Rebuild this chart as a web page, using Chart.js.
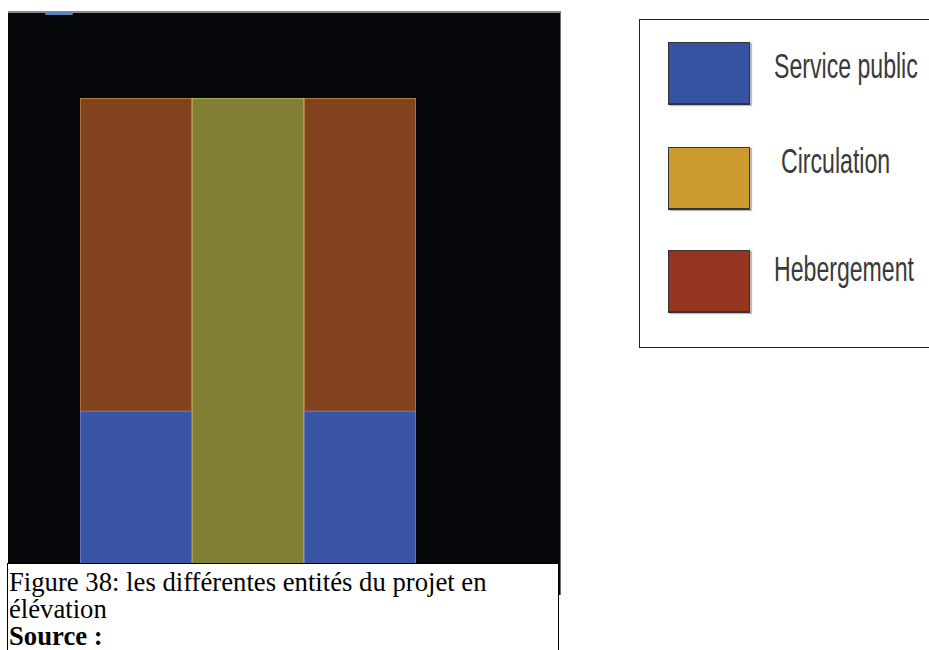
<!DOCTYPE html>
<html>
<head>
<meta charset="utf-8">
<script src="https://cdn.jsdelivr.net/npm/chart.js@4"></script>
<style>
  body { margin: 0; background: #fff; width: 929px; height: 650px; overflow: hidden; position: relative; }
  #panel { position: absolute; left: 8px; top: 11px; width: 553px; height: 584px; background: #05070a;
           border-top: 2px solid #8a8c8e; border-right: 1px solid #6d6f72; box-sizing: border-box; }
  #blip { position: absolute; left: 45px; top: 12px; width: 28px; height: 3px; border-radius: 2px; background: #5d86b8; }
  #legend { position: absolute; left: 639px; top: 19px; width: 300px; height: 329px; border: 1px solid #222;
            box-sizing: border-box; background: #fff; }
  .swatch { position: absolute; left: 28px; width: 82px; height: 63px; border: 1px solid #333;
            border-bottom-width: 2px; box-sizing: border-box; box-shadow: 2px 1px 1px #bbb; }
  .label { position: absolute; font-family: "Liberation Sans", Arial, sans-serif; font-size: 35px; line-height: 35px;
           color: #3a3a3a; transform: scaleX(0.66); transform-origin: left top; white-space: nowrap; }
  #caption { position: absolute; left: 7px; top: 563px; width: 552px; height: 100px; background: #fff;
             border: 1px solid #000; box-sizing: border-box; padding: 5px 0 0 1px;
             font-family: "Liberation Serif", "Times New Roman", serif; font-size: 26.7px; line-height: 27px; color: #000; }
</style>
</head>
<body>
<div id="panel"><canvas id="chart"></canvas></div>
<div id="blip"></div>
<div id="legend"></div>
<div id="caption">Figure 38: les différentes entités du projet en<br>élévation<br><b>Source :</b></div>
<script>
// three vertical blocks of the elevation, shares of the height in %
const categories = ['Aile gauche', 'Noyau central', 'Aile droite'];
const servicePublic = [33, null, 33];
const circulation = [null, 100, null];
const hebergement = [67, null, 67];

const seriesNames = ['Service public', 'Circulation', 'Hebergement'];
const barColors = ['#3953a5', '#818036', '#82421e'];
const edgeColors = ['#7d8cc0', '#c4b650', '#c48a4c'];
const legendColors = ['#3552a3', '#cc9a2e', '#95341f'];

// legend layout (px inside the legend box)
const swatchTops = [22, 127, 230];
const labelTops = [28, 123, 231];
const labelLefts = [134, 141, 134];

const ctx = document.getElementById('chart').getContext('2d');

new Chart(ctx, {
  type: 'bar',
  data: {
    labels: categories,
    datasets: [servicePublic, circulation, hebergement].map((values, i) => ({
      label: seriesNames[i],
      data: values,
      backgroundColor: barColors[i],
      borderColor: edgeColors[i],
      borderWidth: 1,
      barPercentage: 1,
      categoryPercentage: 1,
    })),
  },
  options: {
    responsive: true,
    maintainAspectRatio: false,
    animation: false,
    layout: {
      padding: { left: 72, right: 144, top: 85, bottom: 30 },
    },
    plugins: {
      legend: { display: false },
      tooltip: { enabled: false },
    },
    scales: {
      x: { stacked: true, display: false },
      y: { stacked: true, display: false, min: 0, max: 100 },
    },
  },
});

// legend on the right, built from the same series
const legend = document.getElementById('legend');
seriesNames.forEach((name, i) => {
  const sw = document.createElement('div');
  sw.className = 'swatch';
  sw.style.top = swatchTops[i] + 'px';
  sw.style.background = legendColors[i];
  legend.appendChild(sw);

  const lb = document.createElement('div');
  lb.className = 'label';
  lb.style.top = labelTops[i] + 'px';
  lb.style.left = labelLefts[i] + 'px';
  lb.textContent = name;
  legend.appendChild(lb);
});
</script>
</body>
</html>
